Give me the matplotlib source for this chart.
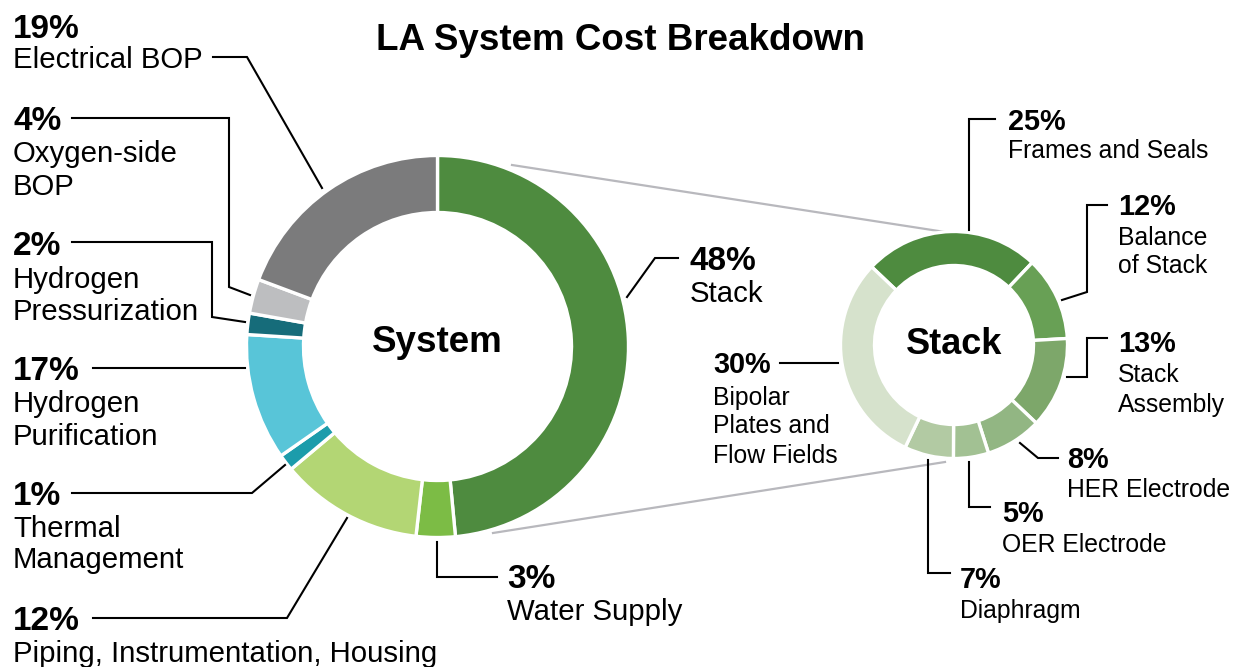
import matplotlib.pyplot as plt

plt.rcParams['font.family'] = ['Liberation Sans', 'DejaVu Sans']

H = 667  # figure height in px, used to flip y

# System donut (clockwise from 12 o'clock)
system_names = ["Stack", "Water Supply", "Piping, Instrumentation, Housing",
                "Thermal Management", "Hydrogen Purification",
                "Hydrogen Pressurization", "Oxygen-side BOP", "Electrical BOP"]
system_labels = ["48%", "3%", "12%", "1%", "17%", "2%", "4%", "19%"]
system_drawn = [48.5, 3.3, 12.1, 1.4, 10.7, 1.8, 2.9, 19.3]
system_colors = ["#4e8b3f", "#7cbc45", "#b3d674", "#1c9cab",
                 "#58c5d8", "#166c7a", "#bdbec0", "#7b7b7c"]

# Stack donut
stack_names = ["Frames and Seals", "Balance of Stack", "Stack Assembly",
               "HER Electrode", "OER Electrode", "Diaphragm",
               "Bipolar Plates and Flow Fields"]
stack_values = [25, 12, 13, 8, 5, 7, 30]
stack_colors = ["#4e8b3f", "#68a055", "#7da76a", "#92b683",
                "#a2c193", "#b2caa3", "#d6e2cc"]

fig = plt.figure(figsize=(12.34, 6.67), dpi=100)
ax = fig.add_axes([0, 0, 1, 1])

def P(x, y):
    return x, H - y

# connector lines (behind)
for (x0, y0), (x1, y1) in [((512, 165), (945, 232)), ((493, 533), (945, 462))]:
    ax.plot([x0, x1], [H - y0, H - y1], color="#b8b8bd", lw=1.6, zorder=1)

ax.pie(system_drawn, colors=system_colors, startangle=90, counterclock=False,
       radius=191, center=P(437.5, 346.5),
       wedgeprops=dict(width=57, edgecolor="white", linewidth=2.4))
ax.pie(stack_values, colors=stack_colors, startangle=136.5, counterclock=False,
       radius=113.5, center=P(954, 345),
       wedgeprops=dict(width=34, edgecolor="white", linewidth=2.4))

ax.set_xlim(0, 1234)
ax.set_ylim(0, H)
ax.set_aspect('equal')
ax.axis('off')

ax.text(*P(620, 50), "LA System Cost Breakdown", fontsize=26.5, fontweight='bold',
        ha='center', va='baseline')
ax.text(*P(437, 343), "System", fontsize=26.5, fontweight='bold', ha='center', va='center')
ax.text(*P(954, 344), "Stack", fontsize=26, fontweight='bold', ha='center', va='center')

def label(x, ys, pct, lines, big=True):
    bsize, nsize = (24, 21.2) if big else (20.8, 17.8)
    ax.text(*P(x, ys[0]), pct, fontsize=bsize, fontweight='bold', va='baseline', ha='left')
    for yb, s in zip(ys[1:], lines):
        ax.text(*P(x, yb), s, fontsize=nsize, va='baseline', ha='left')

def leader(pts):
    ax.plot([p[0] for p in pts], [H - p[1] for p in pts], color="black", lw=1.5,
            solid_joinstyle='miter', zorder=3)

# system labels
label(13, [38, 68], system_labels[7], ["Electrical BOP"])
label(13, [130, 162, 195], system_labels[6], ["Oxygen-side", "BOP"])
label(13, [255, 288, 320], system_labels[5], ["Hydrogen", "Pressurization"])
label(13, [380, 412, 445], system_labels[4], ["Hydrogen", "Purification"])
label(13, [505, 537, 568], system_labels[3], ["Thermal", "Management"])
label(13, [630, 662], system_labels[2], ["Piping, Instrumentation, Housing"])
label(690, [270, 302], system_labels[0], ["Stack"])
label(507, [588, 620], system_labels[1], ["Water Supply"])

leader([(213, 57), (247, 57), (322, 188)])
leader([(72, 118), (229, 118), (229, 287), (250, 295)])
leader([(72, 242), (212, 242), (212, 317), (245, 322)])
leader([(93, 368), (245, 368)])
leader([(72, 493), (252, 493), (285, 465)])
leader([(93, 618), (287, 618), (347, 518)])
leader([(627, 297), (655, 258), (678, 258)])
leader([(437, 542), (437, 577), (497, 577)])

# stack labels
stack_pct = [f"{v}%" for v in stack_values]
label(1008, [130, 158], stack_pct[0], ["Frames and Seals"], big=False)
label(1118, [215, 245, 273], stack_pct[1], ["Balance", "of Stack"], big=False)
label(1118, [352, 382, 412], stack_pct[2], ["Stack", "Assembly"], big=False)
label(1067, [468, 497], stack_pct[3], ["HER Electrode"], big=False)
label(1002, [522, 552], stack_pct[4], ["OER Electrode"], big=False)
label(960, [588, 618], stack_pct[5], ["Diaphragm"], big=False)
label(713, [373, 405, 433, 463], stack_pct[6], ["Bipolar", "Plates and", "Flow Fields"], big=False)

leader([(995, 119), (969, 119), (969, 230)])
leader([(1107, 205), (1087, 205), (1087, 292), (1062, 300)])
leader([(1107, 338), (1087, 338), (1087, 377), (1067, 377)])
leader([(1020, 443), (1038, 458), (1058, 458)])
leader([(969, 462), (969, 507), (990, 507)])
leader([(928, 460), (928, 573), (950, 573)])
leader([(780, 363), (838, 363)])

fig.savefig("out.png", dpi=100, facecolor="white")
